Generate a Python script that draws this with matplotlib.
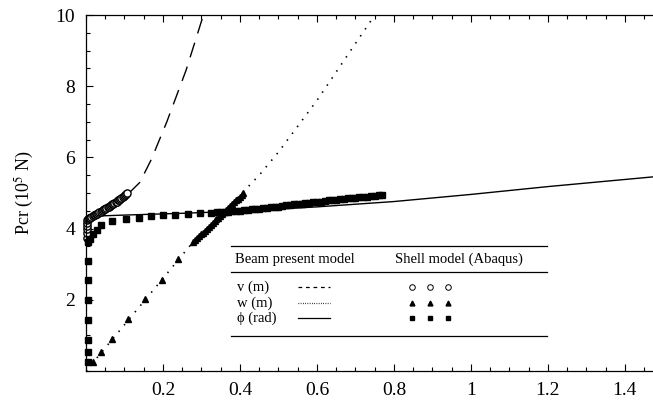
"""Critical load vs displacement: beam model against Abaqus shell model."""

import matplotlib

matplotlib.use("Agg")
import matplotlib.pyplot as plt
import matplotlib.ticker as ticker
from matplotlib.lines import Line2D

plt.rcParams["font.family"] = ["Liberation Serif", "DejaVu Serif"]
plt.rcParams["mathtext.fontset"] = "stix"

# --- beam present model (lines) ---
beam_v_x = [0.0, 0.03, 0.06, 0.09, 0.11, 0.14, 0.17, 0.21, 0.26, 0.305, 0.32]
beam_v_y = [4.3, 4.45, 4.62, 4.82, 4.98, 5.3, 5.95, 7.0, 8.45, 10.0, 10.5]

beam_w_x = [0.0, 0.1, 0.2, 0.28, 0.33, 0.37, 0.41, 0.45, 0.5, 0.6, 0.7, 0.76]
beam_w_y = [0.0, 1.3, 2.6, 3.65, 4.18, 4.62, 5.05, 5.5, 6.15, 7.6, 9.2, 10.15]

beam_phi_x = [0.0, 0.005, 0.02, 0.1, 0.25, 0.35, 0.5, 0.6, 0.8, 1.0, 1.2, 1.48]
beam_phi_y = [4.2, 4.3, 4.35, 4.38, 4.43, 4.47, 4.55, 4.61, 4.76, 4.96, 5.18, 5.46]

# --- shell model (Abaqus), markers ---
shell_v_x = [0.002, 0.002, 0.002, 0.002, 0.002, 0.003,
             0.005, 0.008, 0.011, 0.014, 0.017, 0.020, 0.023, 0.026, 0.029,
             0.032, 0.035, 0.038, 0.041, 0.044, 0.047, 0.050, 0.053, 0.056,
             0.059, 0.062, 0.065, 0.068, 0.071, 0.074, 0.077, 0.080, 0.083,
             0.086, 0.089, 0.092, 0.095, 0.098, 0.101, 0.104, 0.107]
shell_v_y = [3.75, 3.87, 3.98, 4.08, 4.16, 4.23,
             4.27, 4.29, 4.31, 4.33, 4.35, 4.37, 4.39, 4.40, 4.42,
             4.44, 4.46, 4.48, 4.50, 4.52, 4.54, 4.56, 4.58, 4.60,
             4.62, 4.64, 4.66, 4.68, 4.70, 4.72, 4.74, 4.76, 4.79,
             4.81, 4.84, 4.86, 4.89, 4.92, 4.95, 4.98, 5.01]

shell_w_x = [0.019, 0.038, 0.067, 0.110, 0.153, 0.197, 0.240, 0.278,
             0.284, 0.289, 0.294, 0.299, 0.304, 0.309, 0.314, 0.319, 0.324,
             0.329, 0.334, 0.339, 0.344, 0.349, 0.354, 0.359, 0.364, 0.369,
             0.374, 0.379, 0.384, 0.389, 0.394, 0.399, 0.404, 0.409]
shell_w_y = [0.26, 0.52, 0.89, 1.46, 2.02, 2.56, 3.15, 3.62,
             3.69, 3.74, 3.79, 3.84, 3.89, 3.94, 3.99, 4.04, 4.10,
             4.15, 4.20, 4.26, 4.31, 4.36, 4.42, 4.47, 4.52, 4.58,
             4.63, 4.68, 4.74, 4.79, 4.84, 4.89, 4.95, 5.00]

shell_phi_x = [0.004, 0.004, 0.004, 0.004, 0.004, 0.004, 0.004, 0.005,
               0.010, 0.019, 0.028, 0.040, 0.067, 0.105, 0.138, 0.168, 0.200,
               0.232, 0.264, 0.296, 0.326,
               0.340, 0.350, 0.360, 0.370, 0.380, 0.390, 0.400, 0.410, 0.420,
               0.430, 0.440, 0.450, 0.460, 0.470, 0.480, 0.490, 0.500, 0.510,
               0.520, 0.530, 0.540, 0.550, 0.560, 0.570, 0.580, 0.590, 0.600,
               0.610, 0.620, 0.630, 0.640, 0.650, 0.660, 0.670, 0.680, 0.690,
               0.700, 0.710, 0.720, 0.730, 0.740, 0.750, 0.760, 0.768]
shell_phi_y = [0.26, 0.52, 0.87, 1.44, 2.00, 2.56, 3.10, 3.62,
               3.72, 3.85, 3.97, 4.10, 4.22, 4.28, 4.31, 4.34, 4.37,
               4.39, 4.41, 4.43, 4.45,
               4.46, 4.47, 4.47, 4.48, 4.49, 4.49, 4.50, 4.51, 4.53,
               4.54, 4.55, 4.56, 4.57, 4.59, 4.60, 4.61, 4.62, 4.64,
               4.65, 4.66, 4.68, 4.69, 4.70, 4.71, 4.73, 4.74, 4.75,
               4.76, 4.77, 4.79, 4.80, 4.81, 4.82, 4.83, 4.85, 4.86,
               4.87, 4.88, 4.89, 4.90, 4.91, 4.92, 4.94, 4.95]

x_ticks = [0.2, 0.4, 0.6, 0.8, 1.0, 1.2, 1.4]
x_tick_labels = ["0.2", "0.4", "0.6", "0.8", "1", "1.2", "1.4"]
y_ticks = [2, 4, 6, 8, 10]
y_tick_labels = ["2", "4", "6", "8", "10"]

header = ["Beam present model", "Shell model (Abaqus)"]
row_labels = ["v (m)", "w (m)", "\u03d5 (rad)"]

W, H = 653, 409
fig = plt.figure(figsize=(W / 100, H / 100), dpi=100)
# axes box in pixels: left 86, right 653, top 15, bottom 371
ax = fig.add_axes([86 / W, 1 - 371 / H, (653 - 86) / W, (371 - 15) / H])

ax.plot(beam_v_x, beam_v_y, color="black", lw=1.0, linestyle=(0, (11, 7)))
ax.plot(beam_w_x, beam_w_y, color="black", lw=1.2, linestyle=(0, (0.9, 4.2)))
ax.plot(beam_phi_x, beam_phi_y, color="black", lw=1.0)

ax.plot(shell_v_x, shell_v_y, "o", mfc="white", mec="black", mew=1.0, ms=5.2,
        linestyle="none", clip_on=False)
ax.plot(shell_w_x, shell_w_y, "^", color="black", ms=4.6, linestyle="none")
ax.plot(shell_phi_x, shell_phi_y, "s", color="black", ms=4.0, linestyle="none",
        clip_on=False)

ax.set_xlim(0, 1.473)
ax.set_ylim(0, 10)
ax.set_xticks(x_ticks)
ax.set_xticklabels(x_tick_labels)
ax.set_yticks(y_ticks)
ax.set_yticklabels(y_tick_labels)
ax.xaxis.set_minor_locator(ticker.MultipleLocator(0.05))
ax.yaxis.set_minor_locator(ticker.MultipleLocator(0.5))
ax.tick_params(which="both", direction="in", top=True, right=False,
               labelsize=14, width=0.8, pad=8)
ax.tick_params(which="major", length=5)
ax.tick_params(which="minor", length=3)
ax.spines["right"].set_visible(False)
for s in ("left", "top", "bottom"):
    ax.spines[s].set_linewidth(0.9)

ax.set_ylabel(r"Pcr (10$^5$ N)", fontsize=13, labelpad=14)


# --- table-like legend inside the axes, positioned in pixels ---
def px(x, y):
    return (x - 86) / 567, (371 - y) / 356


def hrule(y, x0=231, x1=547):
    a, b = px(x0, y), px(x1, y)
    ax.add_line(Line2D([a[0], b[0]], [a[1], b[1]], transform=ax.transAxes,
                       color="black", lw=0.9))


for yy in (246, 272, 336):
    hrule(yy)

ax.text(*px(295, 259), header[0], transform=ax.transAxes, ha="center",
        va="center", fontsize=10.5)
ax.text(*px(459, 259), header[1], transform=ax.transAxes, ha="center",
        va="center", fontsize=10.5)

row_y = [287, 303, 318]
styles = [(0, (3, 3)), (0, (0.6, 1.2)), "-"]
markers = ["o", "^", "s"]
for lab, yy, ls, mk in zip(row_labels, row_y, styles, markers):
    ax.text(*px(237, yy), lab, transform=ax.transAxes, ha="left",
            va="center", fontsize=10.5)
    a, b = px(298, yy), px(330, yy)
    ax.add_line(Line2D([a[0], b[0]], [a[1], b[1]], transform=ax.transAxes,
                       color="black", lw=0.9, linestyle=ls))
    for mx in (412, 430, 448):
        p = px(mx, yy)
        if mk == "o":
            ax.plot(*p, mk, transform=ax.transAxes, mfc="white", mec="black",
                    mew=0.7, ms=4)
        else:
            ax.plot(*p, mk, transform=ax.transAxes, color="black", ms=3.5)

fig.savefig("out.png", dpi=100, facecolor="white")
